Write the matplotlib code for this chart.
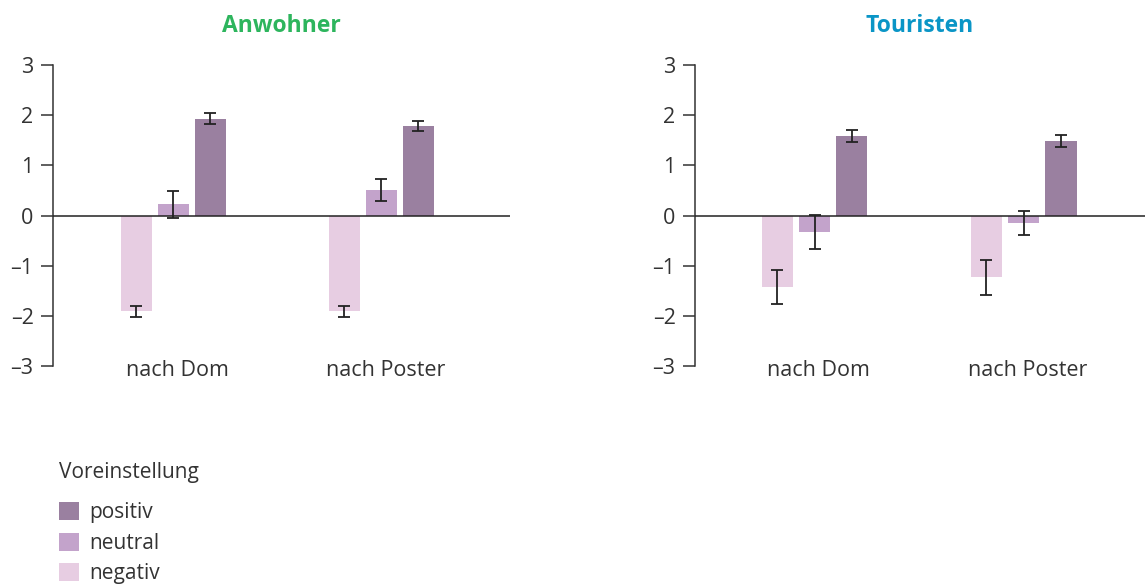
import matplotlib
matplotlib.use("Agg")
import matplotlib.pyplot as plt
import numpy as np
from matplotlib.patches import Patch

plt.rcParams['font.family'] = ['Open Sans', 'DejaVu Sans']

categories = ["nach Dom", "nach Poster"]
series = ["negativ", "neutral", "positiv"]

anw_neg = [-1.91, -1.91]
anw_neu = [0.22, 0.50]
anw_pos = [1.93, 1.79]
anw_neg_err = [0.115, 0.11]
anw_neu_err = [0.27, 0.22]
anw_pos_err = [0.105, 0.10]

tou_neg = [-1.43, -1.23]
tou_neu = [-0.33, -0.15]
tou_pos = [1.59, 1.48]
tou_neg_err = [0.34, 0.35]
tou_neu_err = [0.335, 0.23]
tou_pos_err = [0.123, 0.123]

yticks = [-3, -2, -1, 0, 1, 2, 3]

colors = {"positiv": "#9a80a0", "neutral": "#c3a3cb", "negativ": "#e7cde2"}
text_color = "#333333"

fig = plt.figure(figsize=(11.45, 5.85), dpi=100)

def panel(rect, xlim, neg, neu, pos, eneg, eneu, epos, title, tcolor):
    ax = fig.add_axes(rect)
    x = np.arange(len(categories))
    w = 0.149
    off = 0.178
    for vals, errs, o, name in [(neg, eneg, -off, "negativ"), (neu, eneu, 0, "neutral"), (pos, epos, off, "positiv")]:
        ax.bar(x + o, vals, width=w, color=colors[name], zorder=2)
        ax.errorbar(x + o, vals, yerr=errs, fmt='none', ecolor='#222222',
                    elinewidth=1.3, capsize=4.5, capthick=1.3, zorder=3)
    ax.axhline(0, color='#222222', lw=1.1, zorder=4)
    ax.set_xlim(*xlim)
    ax.set_ylim(-3, 3)
    ax.set_yticks(yticks)
    ax.set_yticklabels([str(t).replace('-', '\u2013') for t in yticks], fontsize=15.5, color=text_color)
    ax.tick_params(axis='y', length=9, width=1.1, color='#333333', pad=5)
    ax.set_xticks(x + 0.02)
    ax.set_xticklabels(categories, fontsize=15.5, color=text_color)
    ax.tick_params(axis='x', length=0, pad=-4.5)
    for s in ['top', 'right', 'bottom']:
        ax.spines[s].set_visible(False)
    ax.spines['left'].set_color('#333333')
    ax.spines['left'].set_linewidth(1.1)
    ax.set_title(title, color=tcolor, fontsize=16.5, fontweight='bold', pad=24)
    ax.set_facecolor('none')
    return ax

panel([53/1145, 219/585, 457/1145, 301/585], (-0.579, 1.618),
      anw_neg, anw_neu, anw_pos, anw_neg_err, anw_neu_err, anw_pos_err,
      "Anwohner", "#2db55d")
panel([695/1145, 219/585, 450/1145, 301/585], (-0.572, 1.58),
      tou_neg, tou_neu, tou_pos, tou_neg_err, tou_neu_err, tou_pos_err,
      "Touristen", "#0a95c6")

handles = [Patch(facecolor=colors[n], edgecolor='none', label=n) for n in ["positiv", "neutral", "negativ"]]
leg = fig.legend(handles=handles, title="Voreinstellung", loc='upper left',
                 bbox_to_anchor=(40/1145, 1 - 443/585), frameon=False,
                 fontsize=15, title_fontsize=15, handlelength=0.95, handleheight=0.95,
                 handletextpad=0.5, labelspacing=0.45, alignment='left')
leg._legend_box.sep = 14
for t in leg.get_texts():
    t.set_color(text_color)
leg.get_title().set_color(text_color)

fig.savefig("out.png", dpi=100)
